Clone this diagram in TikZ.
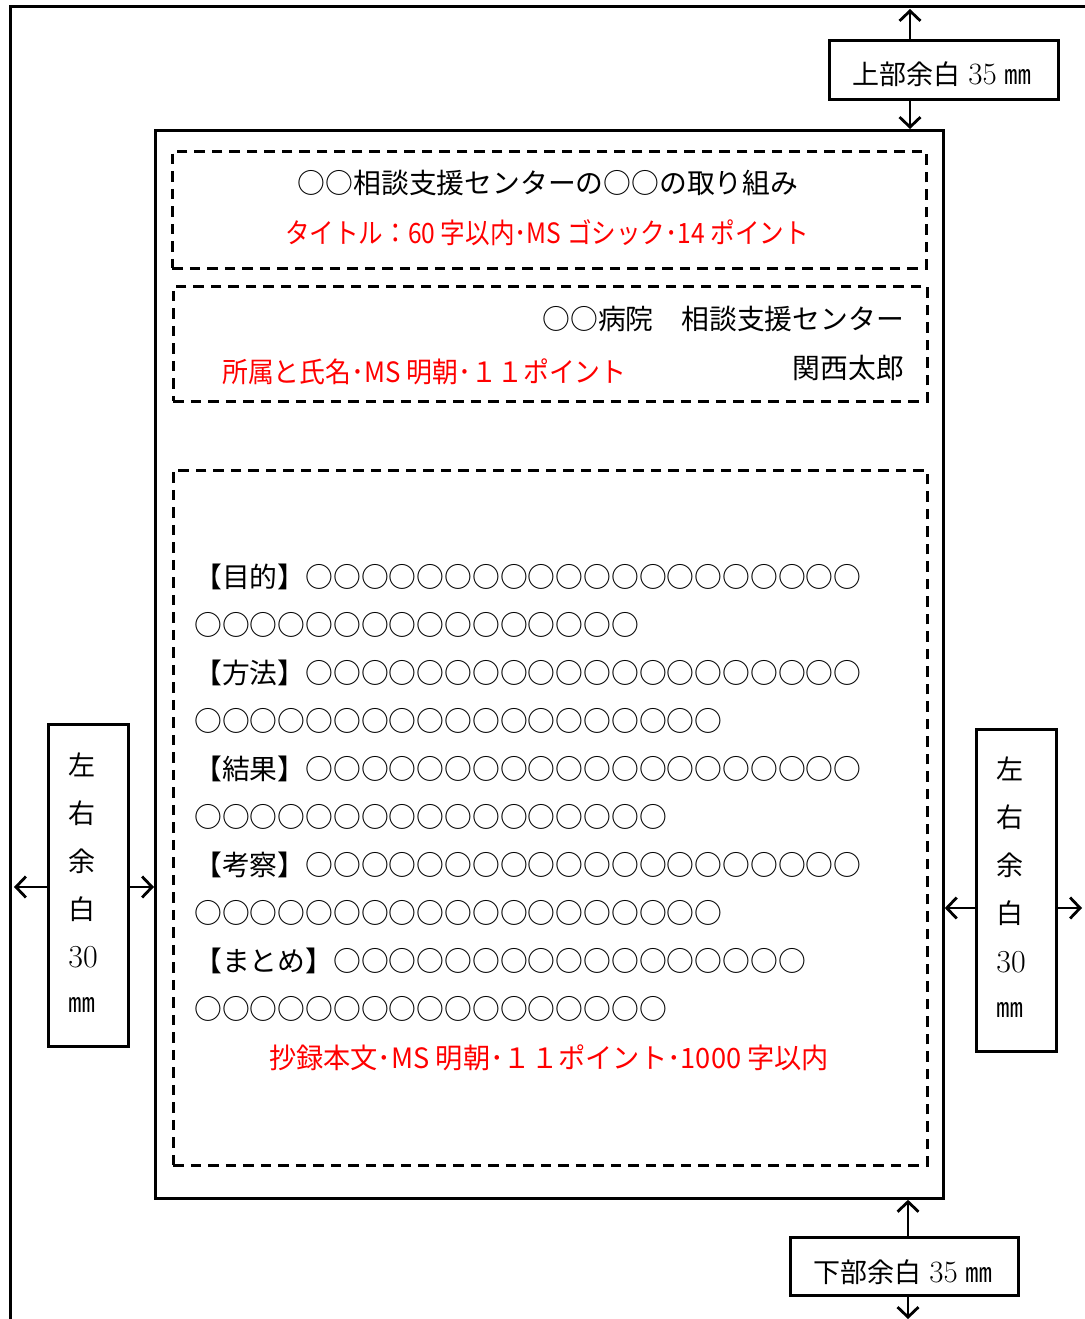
\documentclass[tikz,border=0pt]{standalone}
\usepackage{fontspec}
\usepackage{graphicx}
\usetikzlibrary{arrows.meta}
\newfontfamily\jp{Noto Sans CJK JP}
\begin{document}
\begin{tikzpicture}[x=1pt,y=-1pt,
  pageline/.style={line width=3pt,line cap=rect},
  pagebox/.style={draw,line width=2.8pt},
  dashbox/.style={draw,line width=2.5pt,dash pattern=on 10.5pt off 7pt},
  mbox/.style={draw,line width=2.8pt,inner sep=0pt},
  marrow/.style={line width=2.8pt,-{Straight Barb[length=10pt,width=21pt]}},
  blk/.style={inner sep=0pt,font=\jp\fontsize{27.8}{30}\selectfont},
  red/.style={inner sep=0pt,text=red,font=\jp\fontsize{28}{30}\selectfont},
  mtxt/.style={inner sep=0pt,font=\fontsize{27}{30}\selectfont},
  dig/.style={inner sep=0pt,font=\fontsize{32}{34}\selectfont}
]
\useasboundingbox (0,0) rectangle (1084,1319);
% outer page edges
\coordinate (ptl) at (10,7);
\coordinate (pbl) at (10,1325);
\coordinate (ptr) at (1090,7);
\draw[pageline] (pbl) -- (ptl) -- (ptr);
% inner page
\node[pagebox,minimum width=788pt,minimum height=1068pt,anchor=north west,inner sep=0pt] (page) at (154,129) {};
% title box
\node[dashbox,minimum width=754pt,minimum height=117pt,anchor=north west,inner sep=0pt] (tbox) at (171,150) {};
\node[blk] (title) at (548,183) {○○相談支援センターの○○の取り組み};
\node[red] (titlenote) at (547,233) {\scalebox{0.878}[1]{タイトル：60 字以内･MS ゴシック･14 ポイント}};
% affiliation box
\node[dashbox,minimum width=754pt,minimum height=115pt,anchor=north west,inner sep=0pt] (abox) at (172,285) {};
\node[blk,anchor=east] (aff) at (904,319) {○○病院　相談支援センター};
\node[blk,anchor=east] (name) at (904,368) {関西太郎};
\node[red,anchor=west] (affnote) at (222,372) {\scalebox{0.924}[1]{所属と氏名･MS 明朝･１１ポイント}};
% body box
\node[dashbox,minimum width=754pt,minimum height=695pt,anchor=north west,inner sep=0pt] (bbox) at (172,469) {};
\node[blk,anchor=base west] (l1) at (194,587.5) {【目的】○○○○○○○○○○○○○○○○○○○○};
\node[blk,anchor=base west] (l2) at (194,635.5) {○○○○○○○○○○○○○○○○};
\node[blk,anchor=base west] (l3) at (194,683.5) {【方法】○○○○○○○○○○○○○○○○○○○○};
\node[blk,anchor=base west] (l4) at (194,731.5) {○○○○○○○○○○○○○○○○○○○};
\node[blk,anchor=base west] (l5) at (194,779.5) {【結果】○○○○○○○○○○○○○○○○○○○○};
\node[blk,anchor=base west] (l6) at (194,827.5) {○○○○○○○○○○○○○○○○○};
\node[blk,anchor=base west] (l7) at (194,875.5) {【考察】○○○○○○○○○○○○○○○○○○○○};
\node[blk,anchor=base west] (l8) at (194,923.5) {○○○○○○○○○○○○○○○○○○○};
\node[blk,anchor=base west] (l9) at (194,971.5) {【まとめ】○○○○○○○○○○○○○○○○○};
\node[blk,anchor=base west] (l10) at (194,1019.5) {○○○○○○○○○○○○○○○○○};
\node[red] (bodynote) at (549,1058) {\scalebox{0.972}[1]{抄録本文･MS 明朝･１１ポイント･1000 字以内}};
% top margin
\node[mbox,minimum width=229pt,minimum height=59pt,anchor=north west] (topm) at (828,39) {};
\node[mtxt] (topmt) at (942,74) {{\jp 上部余白} {\fontsize{31}{34}\selectfont 35} {\jp ㎜}};
\draw[marrow] (topm.north -| 910,0) -- (910,9);
\draw[marrow] (topm.south -| 910,0) -- (page.north -| 910,0);
% bottom margin
\node[mtxt] (botmt) at (903,1272) {{\jp 下部余白} {\fontsize{31}{34}\selectfont 35} {\jp ㎜}};
\node[mbox,minimum width=228pt,minimum height=58pt,anchor=north west] (botm) at (789,1236) {};
\draw[marrow] (botm.north -| 908,0) -- (page.south -| 908,0);
\draw[marrow] (botm.south -| 908,0) -- (908,1319);
% left margin
\node[mbox,minimum width=80pt,minimum height=322pt,anchor=north west] (leftm) at (47,723) {};
\node[mtxt] (lm1) at (82,765) {\jp 左};
\node[mtxt] (lm2) at (82,813) {\jp 右};
\node[mtxt] (lm3) at (82,861) {\jp 余};
\node[mtxt] (lm4) at (82,909) {\jp 白};
\node[dig] (lm5) at (83,957) {30};
\node[mtxt] (lm6) at (82,1005) {\jp ㎜};
\draw[marrow] (leftm.west |- 0,887) -- (14,887);
\draw[marrow] (leftm.east |- 0,887) -- (page.west |- 0,887);
% right margin
\node[mbox,minimum width=80pt,minimum height=322pt,anchor=north west] (rightm) at (975,728) {};
\node[mtxt] (rm1) at (1010,769) {\jp 左};
\node[mtxt] (rm2) at (1010,817) {\jp 右};
\node[mtxt] (rm3) at (1010,865) {\jp 余};
\node[mtxt] (rm4) at (1010,913) {\jp 白};
\node[dig] (rm5) at (1011,962) {30};
\node[mtxt] (rm6) at (1010,1010) {\jp ㎜};
\draw[marrow] (rightm.west |- 0,908) -- (page.east |- 0,908);
\draw[marrow] (rightm.east |- 0,908) -- (1082,908);
\end{tikzpicture}
\end{document}
